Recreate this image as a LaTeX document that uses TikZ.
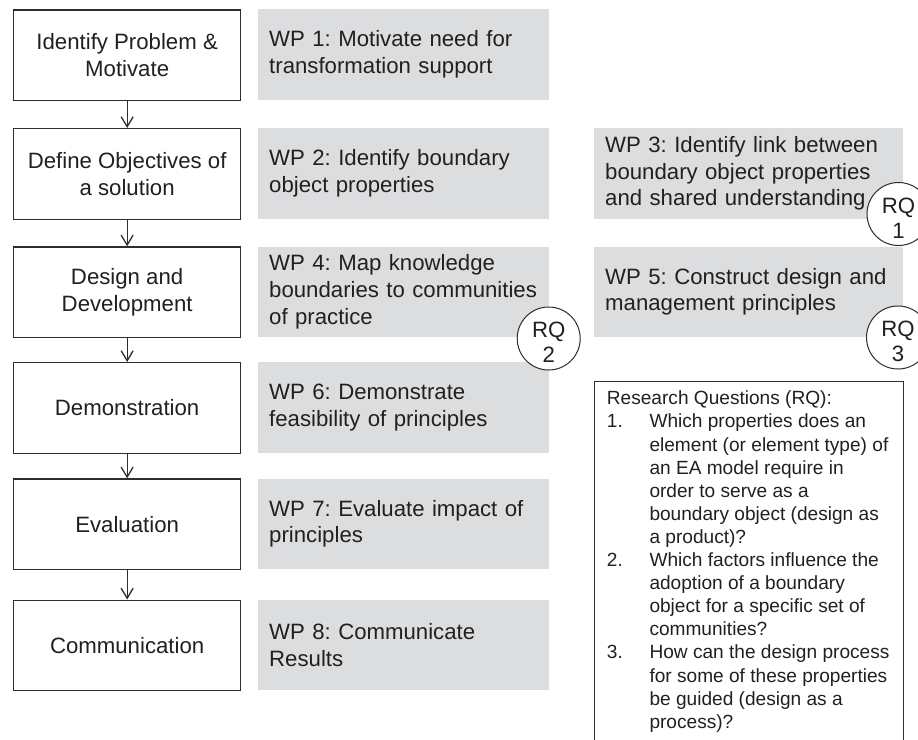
\documentclass[tikz,border=0pt]{standalone}
\usepackage{fontspec}
\setmainfont{Liberation Sans}
\usetikzlibrary{arrows.meta}
\definecolor{wpgray}{RGB}{220,221,223}
\definecolor{ink}{RGB}{35,31,32}
\definecolor{frame}{RGB}{45,45,45}
\frenchspacing
\begin{document}
\begin{tikzpicture}[x=1bp,y=-1bp,
  bigfont/.style={font=\fontsize{22.2bp}{26.7bp}\selectfont},
  phase/.style={bigfont, draw=frame, line width=1.3bp, fill=white,
    minimum width=227bp, minimum height=90.5bp, inner sep=0pt,
    align=center, anchor=north west, text=ink},
  wp/.style={bigfont, fill=wpgray, minimum width=291bp, minimum height=90.5bp,
    inner xsep=11bp, inner ysep=0pt, text width=269bp, align=left,
    anchor=north west, text=ink},
  wpwide/.style={wp, minimum width=308.5bp, text width=286.5bp},
  rqcircle/.style={circle, draw=frame, line width=1bp, fill=white,
    minimum size=63bp, inner sep=0pt},
  rqlabel/.style={font=\fontsize{22.2bp}{25bp}\selectfont, text=ink,
    align=center, inner sep=0pt},
  flow/.style={draw=frame, line width=1.3bp,
    -{Straight Barb[length=10bp,width=12bp,line width=1.3bp]}},
]
\useasboundingbox (0,0) rectangle (918,740);
\clip (0,0) rectangle (918,740);

% process phases
\node[phase] (p1) at (13,9.3)  {Identify Problem \&\\Motivate};
\node[phase] (p2) at (13,128)  {Define Objectives of\\a solution};
\node[phase] (p3) at (13,246.3) {Design and\\Development};
\node[phase] (p4) at (13,362)  {Demonstration};
\node[phase] (p5) at (13,478.3) {Evaluation};
\node[phase] (p6) at (13,599.5) {Communication};

\draw[flow] (p1.south) -- (p2.north);
\draw[flow] (p2.south) -- (p3.north);
\draw[flow] (p3.south) -- (p4.north);
\draw[flow] (p4.south) -- (p5.north);
\draw[flow] (p5.south) -- (p6.north);

% work packages
\node[wp] (wp1) at (258,9)     {WP 1: Motivate need for\\transformation support};
\node[wp] (wp2) at (258,128)   {WP 2: Identify boundary\\object properties};
\node[wp] (wp4) at (258,246.5) {WP 4: Map knowledge\\boundaries to communities\\of practice};
\node[wp] (wp6) at (258,362)   {WP 6: Demonstrate\\feasibility of principles};
\node[wp] (wp7) at (258,478.3) {WP 7: Evaluate impact of\\principles};
\node[wp] (wp8) at (258,599.3) {WP 8: Communicate\\Results};
\node[wpwide] (wp3) at (594,128)   {WP 3: Identify link between\\boundary object properties\\and shared understanding};
\node[wpwide] (wp5) at (594,246.3) {WP 5: Construct design and\\management principles};

% research question markers
\node[rqcircle] (rq1) at (898.5,214) {};
\node[rqcircle] (rq2) at (548.7,338.5) {};
\node[rqcircle] (rq3) at (898,337.5) {};
\node[rqlabel] (rq1t) at (898.5,218) {RQ\\1};
\node[rqlabel] (rq2t) at (548.7,342.5) {RQ\\2};
\node[rqlabel] (rq3t) at (898,341.5) {RQ\\3};

% research questions legend
\node[draw=frame, line width=1.3bp, anchor=north west,
  minimum width=309bp, minimum height=380bp, inner sep=0pt] (legend) at (594,381) {};
\node[anchor=north west, inner sep=0pt, text=ink,
  font=\fontsize{19.1bp}{23.1bp}\selectfont] (legendtext) at (606.7,388.5) {%
  \begin{tabular}{@{}p{42.6bp}@{}l@{}}
  \multicolumn{2}{@{}l@{}}{Research Questions (RQ):}\\
  1. & Which properties does an\\
     & element (or element type) of\\
     & an EA model require in\\
     & order to serve as a\\
     & boundary object (design as\\
     & a product)?\\
  2. & Which factors influence the\\
     & adoption of a boundary\\
     & object for a specific set of\\
     & communities?\\
  3. & How can the design process\\
     & for some of these properties\\
     & be guided (design as a\\
     & process)?
  \end{tabular}};
\end{tikzpicture}
\end{document}
